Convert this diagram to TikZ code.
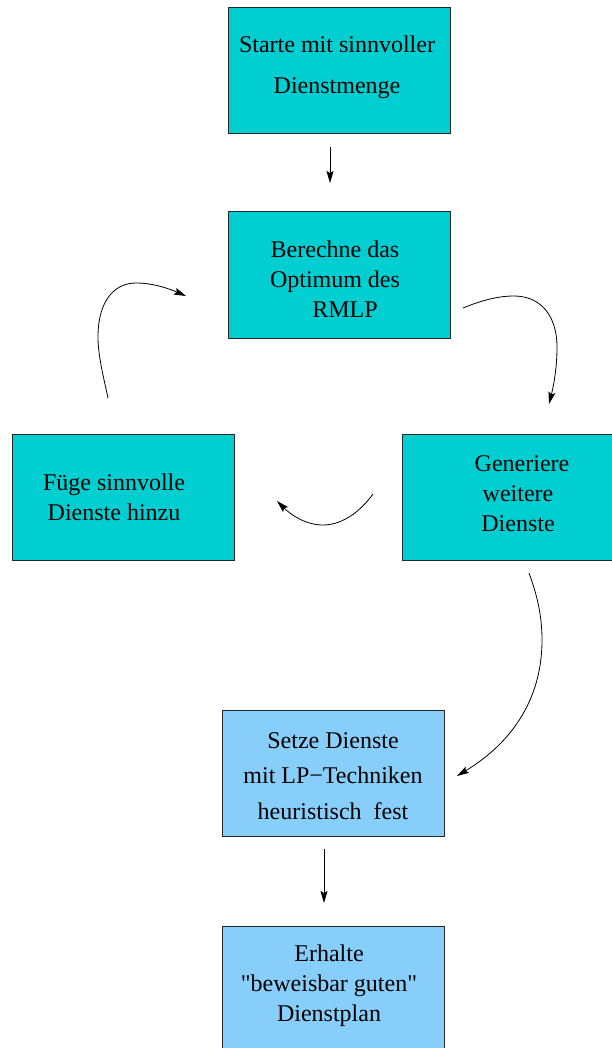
\documentclass[tikz,border=0pt]{standalone}
\usepackage{fontspec}
\setmainfont{Liberation Serif}
\newfontfamily\plainrm{Liberation Serif}
\usetikzlibrary{arrows.meta}
\definecolor{tealbox}{RGB}{0,206,209}
\definecolor{bluebox}{RGB}{135,206,250}
\tikzset{
  x=1pt,y=-1pt,
  box/.style={draw=black!85,line width=1pt,minimum width=222pt,minimum height=126pt,inner sep=0pt},
  tbox/.style={box,fill=tealbox},
  lbox/.style={box,fill=bluebox},
  txt/.style={align=center,inner sep=0pt,font=\fontsize{24}{30}\selectfont},
  conn/.style={line width=0.8pt,-{Stealth[length=12pt,width=7pt,inset=2pt]}}
}
\begin{document}
\begin{tikzpicture}
\useasboundingbox (0,0) rectangle (611,1048);
% boxes
\node[tbox] (b1) at (339,71) {};
\node[tbox] (b2) at (339,275) {};
\node[tbox] (b3) at (123,497) {};
\node[tbox] (b4) at (513,497) {};
\node[lbox] (b5) at (333,773) {};
\node[lbox] (b6) at (333,989) {};
% texts
\node[txt,font=\fontsize{24}{41}\selectfont] (t1) at (337,67) {Starte mit sinnvoller\\Dienstmenge};
\node[txt] (t2) at (335,279) {Berechne das\\Optimum des\\\hspace*{20pt}RMLP};
\node[txt] (t3) at (114,497) {Füge sinnvolle\\Dienste hinzu};
\node[txt] (t4) at (518,494) {\hspace*{8pt}Generiere\\weitere\\Dienste};
\node[txt,font=\fontsize{24}{35.5}\selectfont] (t5) at (333,776) {Setze Dienste\\mit LP−Techniken\\heuristisch\ \ fest};
\node[txt] (t6) at (329,986) {Erhalte\\{\plainrm"}beweisbar guten{\plainrm"}\\Dienstplan};
% connector end points
\coordinate (a1s) at (330,147); \coordinate (a1e) at (330,183);
\coordinate (a2s) at (324,849); \coordinate (a2e) at (324,903);
\coordinate (cAs) at (463,308); \coordinate (cAe) at (549,404);
\coordinate (cBs) at (108,398); \coordinate (cBe) at (186,296);
\coordinate (cCs) at (373,494); \coordinate (cCe) at (277,501);
\coordinate (cDs) at (529,573); \coordinate (cDe) at (457,776);
% connectors
\draw[conn] (a1s) -- (a1e);
\draw[conn] (a2s) -- (a2e);
\draw[conn] (cAs) .. controls (480,301) and (497,296) .. (514,296)
  .. controls (540,296) and (557,315) .. (557,347)
  .. controls (557,370) and (553,388) .. (cAe);
\draw[conn] (cBs) .. controls (103,375) and (98,355) .. (98,337)
  .. controls (98,300) and (115,283) .. (136,283)
  .. controls (155,283) and (172,290) .. (cBe);
\draw[conn] (cCs) .. controls (360,512) and (342,525) .. (323,525)
  .. controls (305,525) and (290,514) .. (cCe);
\draw[conn] (cDs) .. controls (537,595) and (542,615) .. (542,640)
  .. controls (542,710) and (500,750) .. (cDe);
\end{tikzpicture}
\end{document}
